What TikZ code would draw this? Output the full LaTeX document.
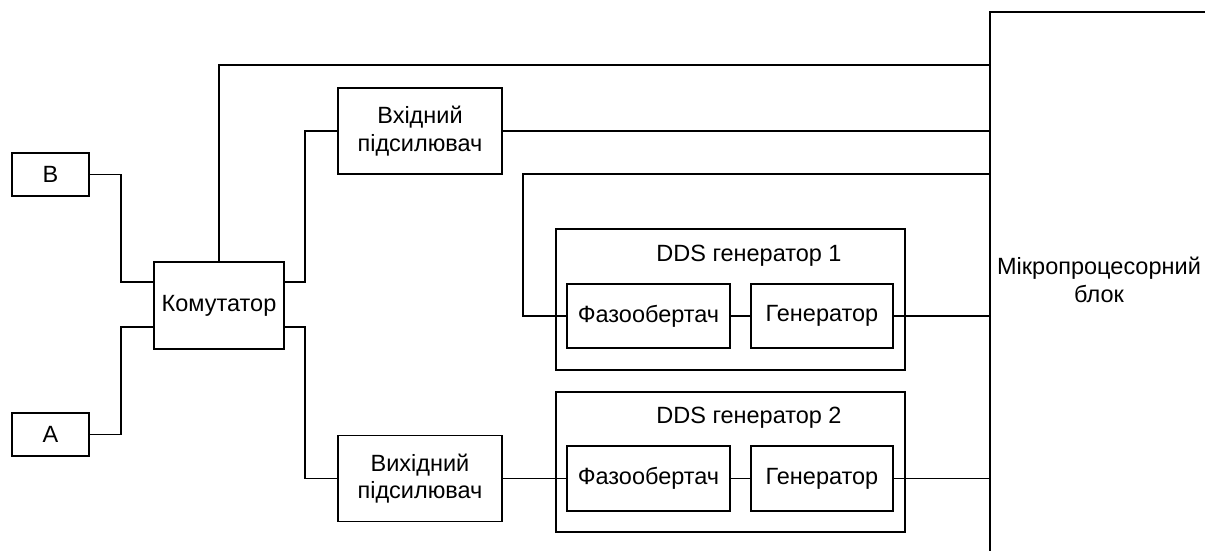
\documentclass[tikz,border=0pt]{standalone}
\usepackage{fontspec}
\setmainfont{Liberation Sans}
\usetikzlibrary{calc}
\begin{document}
\begin{tikzpicture}[x=1pt,y=-1pt,
  blk/.style={draw,line width=1.9pt,inner sep=0pt,align=center,font=\fontsize{23.5}{27.5}\selectfont},
  wire/.style={line width=1.9pt}]
\useasboundingbox (0,0) rectangle (1205,550);
\clip (0,0) rectangle (1205,550);
\fill[white] (0,0) rectangle (1205,550);
% blocks
\node[blk,minimum width=77pt,minimum height=43pt] (B) at (50.5,174.5) {B};
\node[blk,minimum width=77pt,minimum height=43pt] (A) at (50.5,434.5) {A};
\node[blk,minimum width=130pt,minimum height=87pt] (kom) at (219,305.5) {Комутатор};
\node[blk,minimum width=164pt,minimum height=86pt] (vh) at (420,131) {Вхідний\\підсилювач};
\node[blk,minimum width=164pt,minimum height=86pt] (vyh) at (420,478.5) {Вихідний\\підсилювач};
\node[blk,minimum width=349pt,minimum height=141pt] (dds1) at (730.5,299.5) {};
\node[blk,draw=none] (dds1t) at (749,256) {DDS генератор 1};
\node[blk,minimum width=163pt,minimum height=64pt] (f1) at (648.5,316) {Фазообертач};
\node[blk,minimum width=142pt,minimum height=64pt] (g1) at (822,316) {Генератор};
\node[blk,minimum width=349pt,minimum height=140pt] (dds2) at (730.5,462) {};
\node[blk,draw=none] (dds2t) at (749,418) {DDS генератор 2};
\node[blk,minimum width=163pt,minimum height=65pt] (f2) at (648.5,478.5) {Фазообертач};
\node[blk,minimum width=142pt,minimum height=65pt] (g2) at (822,478.5) {Генератор};
\node[blk,minimum width=260pt,minimum height=580pt] (micro) at (1120,302) {};
\node[blk,draw=none] (microt) at (1099,280) {Мікропроцесорний\\блок};
% connectors
\draw[wire] (B.east) -| (121,282) -- ([yshift=23.5pt]kom.west);
\draw[wire] (A.east) -| (121,327) -- ([yshift=-21.5pt]kom.west);
\draw[wire] (kom.north) |- ([yshift=-54pt]micro.north west);
\draw[wire] ([yshift=23.5pt]kom.east) -| (305,131) -- (vh.west);
\draw[wire] ([yshift=-21.5pt]kom.east) -| (305,478.5) -- (vyh.west);
\draw[wire] (vh.east) -- (vh.east -| micro.west);
\draw[wire] (vyh.east) -- (f2.west);
\draw[wire] ([yshift=-163pt]micro.north west) -| (523,316) -- (f1.west);
\draw[wire] (f1.east) -- (g1.west);
\draw[wire] (f2.east) -- (g2.west);
\draw[wire] (g1.east) -- (g1.east -| micro.west);
\draw[wire] (g2.east) -- (g2.east -| micro.west);
\end{tikzpicture}
\end{document}
